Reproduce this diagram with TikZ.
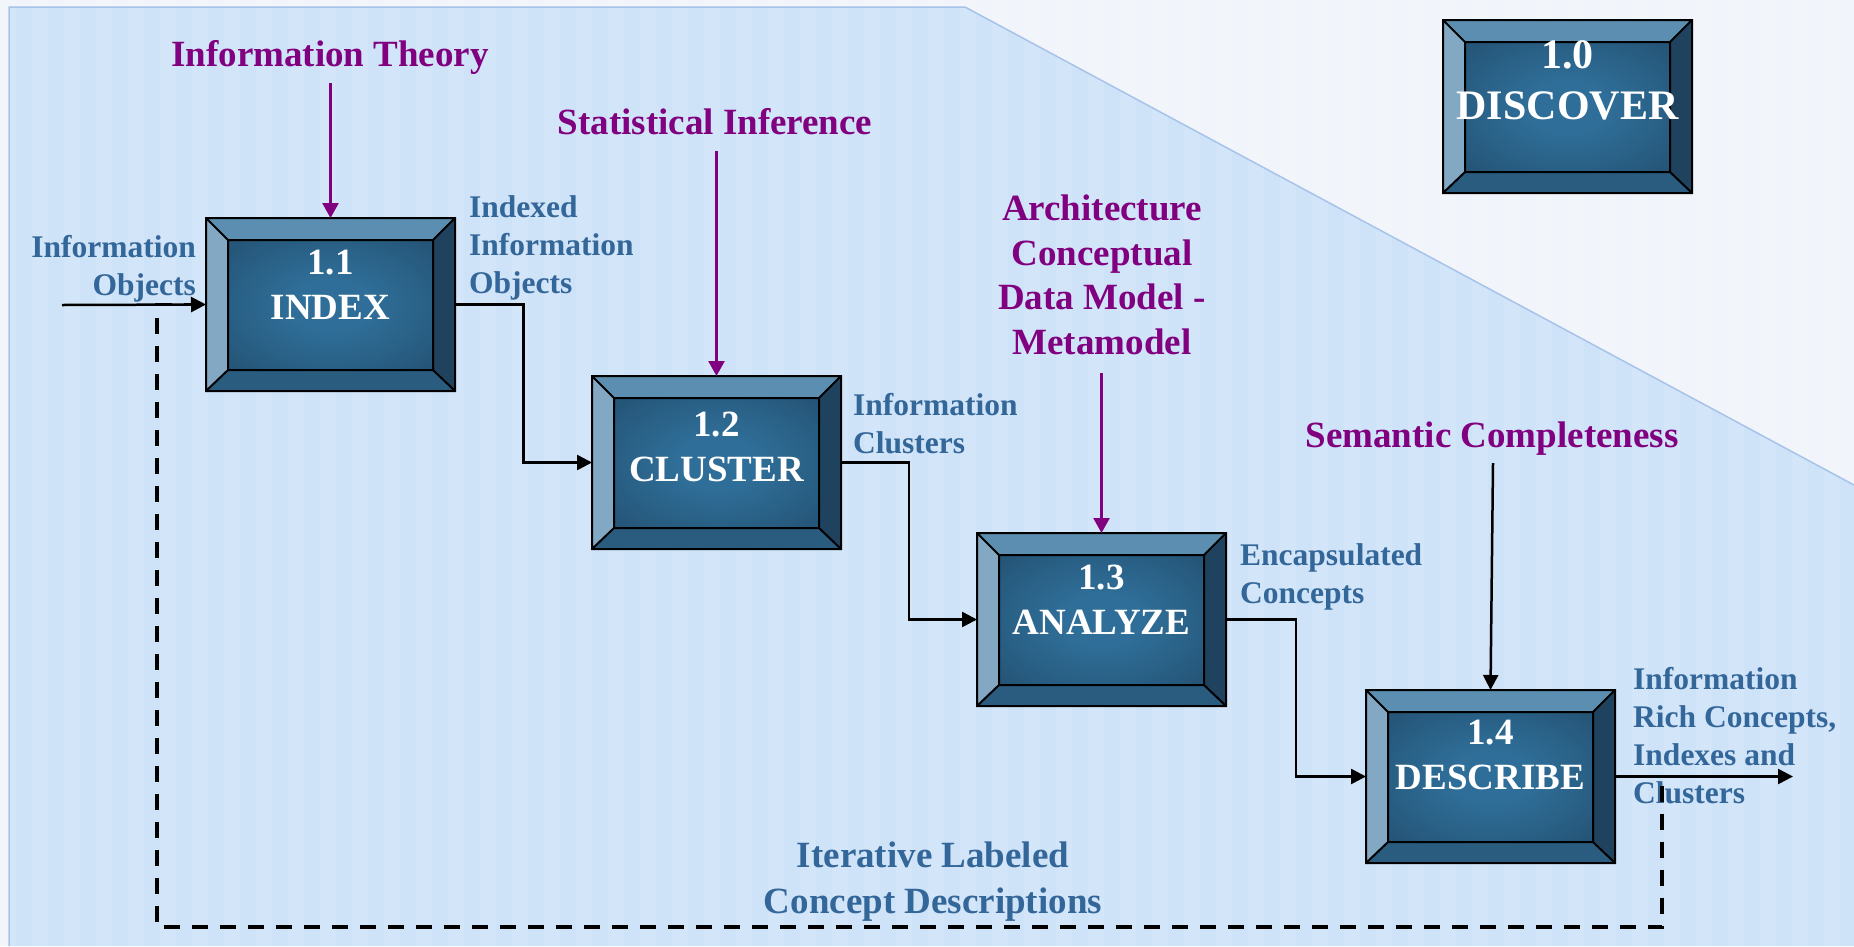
\documentclass[tikz,border=0pt]{standalone}
\usepackage{fontspec}
\setmainfont{Liberation Serif}
\usetikzlibrary{arrows.meta,calc}

\definecolor{paper}{HTML}{F1F5FB}
\definecolor{panel}{HTML}{CEE2F8}
\definecolor{panelrim}{HTML}{A8C3EA}
\definecolor{labelblue}{HTML}{336699}
\definecolor{topic}{HTML}{800080}
\definecolor{facetop}{HTML}{5B8EB0}
\definecolor{faceleft}{HTML}{82A8C4}
\definecolor{faceright}{HTML}{1F425E}
\definecolor{facebottom}{HTML}{2A5C80}
\definecolor{glowmid}{HTML}{2F6E98}
\definecolor{glowedge}{HTML}{1E4461}

% soft glow for the centre panel of a process node
\pgfdeclareradialshading{boxglow}{\pgfpoint{0bp}{0bp}}{%
  color(0bp)=(glowmid); color(10bp)=(glowmid);
  color(50bp)=(glowedge); color(71bp)=(glowedge)}

% Bevelled frame around a process node: four sloped faces, a glowing
% centre panel and the black outlines.
\newcommand\bevelframe[1]{%
  \coordinate (#1-NW) at (#1.north west);
  \coordinate (#1-NE) at (#1.north east);
  \coordinate (#1-SE) at (#1.south east);
  \coordinate (#1-SW) at (#1.south west);
  \coordinate (#1-nw) at ([shift={(22pt,-22pt)}]#1.north west);
  \coordinate (#1-ne) at ([shift={(-22pt,-22pt)}]#1.north east);
  \coordinate (#1-se) at ([shift={(-22pt,21pt)}]#1.south east);
  \coordinate (#1-sw) at ([shift={(22pt,21pt)}]#1.south west);
  \fill[facetop] (#1-NW) -- (#1-NE) -- (#1-ne) -- (#1-nw) -- cycle;
  \fill[faceleft] (#1-NW) -- (#1-nw) -- (#1-sw) -- (#1-SW) -- cycle;
  \fill[faceright] (#1-NE) -- (#1-SE) -- (#1-se) -- (#1-ne) -- cycle;
  \fill[facebottom] (#1-SW) -- (#1-sw) -- (#1-se) -- (#1-SE) -- cycle;
  \shade[shading=boxglow] (#1-nw) rectangle (#1-se);
  \draw[rim] (#1-NW) rectangle (#1-SE) (#1-nw) rectangle (#1-se)
    (#1-NW) -- (#1-nw) (#1-NE) -- (#1-ne) (#1-SE) -- (#1-se) (#1-SW) -- (#1-sw);
}

\begin{document}
\begin{tikzpicture}[x=1pt, y=-1pt,
  procbox/.style={rectangle, minimum width=249pt, minimum height=173pt,
    inner sep=0pt, outer sep=0pt},
  rim/.style={draw=black, line width=2pt, line join=miter},
  boxtext/.style={text=white, align=center, inner sep=0pt,
    font=\bfseries\fontsize{37}{45}\selectfont},
  bigboxtext/.style={boxtext, font=\bfseries\fontsize{42}{51}\selectfont},
  flowlabel/.style={text=labelblue, inner sep=0pt,
    font=\bfseries\fontsize{31.5}{38}\selectfont},
  looplabel/.style={text=labelblue, inner sep=0pt, align=center,
    font=\bfseries\fontsize{37}{46}\selectfont},
  topiclabel/.style={text=topic, inner sep=0pt, align=center,
    font=\bfseries\fontsize{37}{44.5}\selectfont},
  flow/.style={draw=black, line width=2.5pt, -{Triangle[length=15pt,width=15pt]}},
  influence/.style={draw=topic, line width=2.5pt, -{Triangle[length=15pt,width=16pt]}},
  feedback/.style={draw=black, line width=3.5pt, dash pattern=on 16pt off 12pt}]

\useasboundingbox (0,0) rectangle (1854,946);

% backdrop: pale page, blue panel with a sloped top-right edge, soft stripes
\fill[paper] (0,0) rectangle (1854,946);
\fill[panel] (9,7) -- (965,7) -- (1854,485) -- (1854,946) -- (9,946) -- cycle;
\foreach \i in {0,...,57}
  \fill[white, opacity=0.12] (\i*32,0) rectangle ++(16,946);
\draw[panelrim, line width=1.5pt] (9,946) -- (9,7) -- (965,7) -- (1854,485);

% process nodes
\node[procbox] (p10) at (1567.5,106.5) {};
\node[procbox] (p11) at (330.5,304.5) {};
\node[procbox] (p12) at (716.5,462.5) {};
\node[procbox] (p13) at (1101.5,619.5) {};
\node[procbox] (p14) at (1490.5,776.5) {};
\foreach \b in {p10,p11,p12,p13,p14} {\bevelframe{\b}}

\node[bigboxtext] (p10-t) at ($(p10)+(0,-26)$) {1.0\\DISCOVER};
\node[boxtext] (p11-t) at ($(p11)+(0,-20)$) {1.1\\INDEX};
\node[boxtext] (p12-t) at ($(p12)+(0,-15.5)$) {1.2\\CLUSTER};
\node[boxtext] (p13-t) at ($(p13)+(0,-20)$) {1.3\\ANALYZE};
\node[boxtext] (p14-t) at ($(p14)+(0,-21.5)$) {1.4\\DESCRIBE};

% guiding disciplines above the process chain
\node[topiclabel] (t-info) at (330,57.5) {Information Theory};
\node[topiclabel] (t-stat) at (715,122) {Statistical Inference};
\node[topiclabel] (t-arch) at (1102,275) {Architecture\\Conceptual\\Data Model -\\Metamodel};
\node[topiclabel] (t-sem) at (1492,438.5) {Semantic Completeness};

% flow labels
\node[flowlabel, align=right, anchor=east] (l-in) at (196,269) {Information\\Objects};
\node[flowlabel, align=left, anchor=west] (l-11) at (469,247.5) {Indexed\\Information\\Objects};
\node[flowlabel, align=left, anchor=west] (l-12) at (853,423.5) {Information\\Clusters};
\node[flowlabel, align=left, anchor=west] (l-13) at (1240,577) {Encapsulated\\Concepts};
\node[flowlabel, align=left, anchor=west] (l-14) at (1633,735.5) {Information\\Rich Concepts,\\Indexes and\\Clusters};
\node[looplabel] (l-loop) at (933,882) {Iterative Labeled\\Concept Descriptions};

% free ends of connectors
\coordinate (src) at (62,305);
\coordinate (sink) at (1793,776.5);
\coordinate (fbR) at (1662,927);
\coordinate (fbL) at (157,927);
\coordinate (info-src) at (330.5,83);
\coordinate (stat-src) at (716.5,151);
\coordinate (arch-src) at (1101.5,373);
\coordinate (sem-src) at (1493,463);

% feedback loop back to the start
\draw[feedback] (p14.east) -| (fbR) -- (fbL) |- (p11.west);

% main flow
\draw[flow] (src) -- (p11.west);
\draw[flow] (p11.east) -| ($(p11.east)!0.5!(p12.west)$) |- (p12.west);
\draw[flow] (p12.east) -| ($(p12.east)!0.5!(p13.west)$) |- (p13.west);
\draw[flow] (p13.east) -| ($(p13.east)!0.5!(p14.west)$) |- (p14.west);
\draw[flow] (p14.east) -- (sink);

% influences
\draw[influence] (info-src) -- (p11.north);
\draw[influence] (stat-src) -- (p12.north);
\draw[influence] (arch-src) -- (p13.north);
\draw[flow] (sem-src) -- (p14.north);
\end{tikzpicture}
\end{document}
